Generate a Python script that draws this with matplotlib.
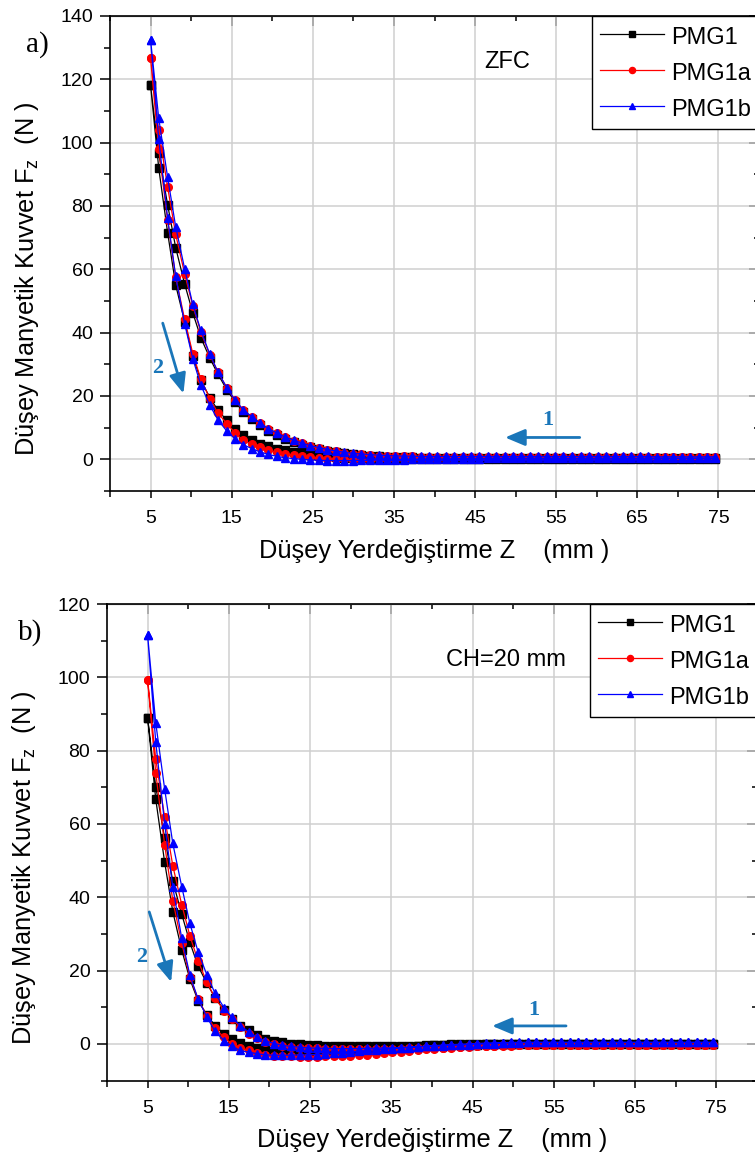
import numpy as np
import matplotlib.pyplot as plt

plt.rcParams['font.family'] = ['Liberation Sans', 'DejaVu Sans']
plt.rcParams['mathtext.fontset'] = 'custom'
plt.rcParams['mathtext.rm'] = 'Liberation Sans'
plt.rcParams['mathtext.it'] = 'Liberation Sans:italic'

# displacement grid (mm), shared by both branches
z = [5.0, 6.0, 7.1, 8.1, 9.2, 10.2, 11.2, 12.3, 13.3, 14.4,
     15.4, 16.4, 17.5, 18.5, 19.5, 20.6, 21.6, 22.7, 23.7, 24.7,
     25.8, 26.8, 27.9, 28.9, 29.9, 31.0, 32.0, 33.1, 34.1, 35.1,
     36.2, 37.2, 38.3, 39.3, 40.3, 41.4, 42.4, 43.5, 44.5, 45.5,
     46.6, 47.6, 48.7, 49.7, 50.7, 51.8, 52.8, 53.9, 54.9, 55.9,
     57.0, 58.0, 59.0, 60.1, 61.1, 62.2, 63.2, 64.2, 65.3, 66.3,
     67.4, 68.4, 69.4, 70.5, 71.5, 72.6, 73.6, 74.6]

names = ['PMG1', 'PMG1a', 'PMG1b']

# ---- a) ZFC : approach (1) and recede (2) ----
a_app_pmg1 = [118.1, 96.7, 80.4, 66.8, 55.4, 46.3, 38.4, 32.0, 26.9, 22.0,
              18.2, 15.1, 12.8, 10.9, 9.1, 7.7, 6.5, 5.5, 4.6, 3.9,
              3.3, 2.7, 2.3, 1.9, 1.6, 1.3, 1.1, 0.9, 0.8, 0.7,
              0.6, 0.6, 0.5, 0.5, 0.5, 0.5, 0.5, 0.5, 0.5, 0.5,
              0.5, 0.5, 0.5, 0.5, 0.5, 0.5, 0.5, 0.5, 0.5, 0.5,
              0.5, 0.5, 0.5, 0.5, 0.5, 0.5, 0.5, 0.5, 0.5, 0.5,
              0.5, 0.5, 0.5, 0.5, 0.5, 0.5, 0.5, 0.5]
a_app_pmg1a = [126.6, 103.9, 86.0, 71.0, 58.6, 48.5, 40.2, 33.0, 27.6, 22.6,
               18.7, 15.6, 13.3, 11.4, 9.6, 8.2, 6.9, 5.9, 5.0, 4.2,
               3.6, 3.0, 2.5, 2.1, 1.8, 1.6, 1.4, 1.2, 1.1, 1.0,
               0.9, 0.9, 0.8, 0.8, 0.8, 0.8, 0.8, 0.8, 0.8, 0.8,
               0.8, 0.8, 0.8, 0.8, 0.8, 0.8, 0.8, 0.8, 0.8, 0.8,
               0.8, 0.8, 0.8, 0.8, 0.8, 0.8, 0.8, 0.8, 0.8, 0.8,
               0.8, 0.8, 0.8, 0.8, 0.8, 0.8, 0.8, 0.8]
a_app_pmg1b = [132.5, 107.8, 89.1, 73.4, 60.2, 48.9, 40.7, 33.2, 27.6, 22.6,
               18.8, 15.7, 13.4, 11.5, 9.7, 8.3, 7.0, 6.0, 5.1, 4.3,
               3.7, 3.1, 2.6, 2.2, 1.9, 1.7, 1.5, 1.3, 1.2, 1.1,
               1.0, 1.0, 0.9, 0.9, 0.9, 0.9, 0.9, 0.9, 0.9, 0.9,
               0.9, 0.9, 0.9, 0.9, 0.9, 0.9, 0.9, 0.9, 0.9, 0.9,
               0.9, 0.9, 0.9, 0.9, 0.9, 0.9, 0.9, 0.9, 0.9, 0.9,
               0.8, 0.8, 0.8, 0.8, 0.8, 0.8, 0.8, 0.8]
a_rec_pmg1 = [118.1, 92.1, 71.6, 55.0, 43.5, 32.5, 25.0, 19.5, 15.5, 12.3,
              9.7, 7.6, 6.2, 4.9, 4.2, 3.4, 2.8, 2.3, 1.9, 1.5,
              1.2, 0.9, 0.7, 0.5, 0.4, 0.3, 0.2, 0.1, 0.1, 0.0,
              0.0, 0.0, 0.0, 0.1, 0.1, 0.1, 0.1, 0.1, 0.1, 0.1,
              0.1, 0.1, 0.1, 0.1, 0.1, 0.1, 0.1, 0.1, 0.1, 0.1,
              0.1, 0.1, 0.1, 0.1, 0.1, 0.1, 0.1, 0.1, 0.1, 0.1,
              0.1, 0.1, 0.1, 0.1, 0.1, 0.1, 0.1, 0.1]
a_rec_pmg1a = [126.6, 98.1, 75.5, 57.5, 44.2, 33.4, 25.3, 19.2, 14.6, 11.3,
               8.4, 6.0, 4.8, 3.8, 2.8, 2.2, 1.7, 1.3, 0.9, 0.6,
               0.4, 0.2, 0.1, 0.0, -0.1, -0.1, -0.1, 0.0, 0.0, 0.1,
               0.1, 0.1, 0.2, 0.2, 0.2, 0.2, 0.3, 0.3, 0.3, 0.3,
               0.3, 0.3, 0.3, 0.3, 0.3, 0.3, 0.3, 0.3, 0.3, 0.3,
               0.3, 0.3, 0.3, 0.3, 0.3, 0.3, 0.3, 0.3, 0.3, 0.3,
               0.3, 0.3, 0.3, 0.3, 0.3, 0.3, 0.3, 0.3]
a_rec_pmg1b = [132.5, 101.3, 76.2, 57.8, 42.8, 31.8, 23.4, 17.1, 12.5, 8.9,
               6.5, 4.6, 3.4, 2.3, 1.6, 0.9, 0.5, 0.2, 0.0, -0.2,
               -0.3, -0.4, -0.4, -0.4, -0.4, -0.3, -0.3, -0.2, -0.2, -0.1,
               -0.1, 0.0, 0.0, 0.1, 0.1, 0.1, 0.2, 0.2, 0.2, 0.2,
               0.3, 0.3, 0.3, 0.3, 0.3, 0.3, 0.3, 0.3, 0.3, 0.3,
               0.3, 0.3, 0.3, 0.3, 0.3, 0.3, 0.3, 0.3, 0.3, 0.3,
               0.3, 0.3, 0.3, 0.3, 0.3, 0.3, 0.3, 0.3]

# ---- b) CH=20 mm ----
b_app_pmg1 = [89.0, 70.2, 56.1, 44.4, 35.4, 27.7, 21.3, 16.5, 12.6, 9.3,
              6.8, 5.0, 3.8, 2.5, 1.3, 0.9, 0.4, 0.1, -0.1, -0.3,
              -0.4, -0.5, -0.5, -0.6, -0.6, -0.6, -0.6, -0.6, -0.6, -0.6,
              -0.6, -0.5, -0.5, -0.5, -0.4, -0.4, -0.3, -0.3, -0.2, -0.2,
              -0.1, -0.1, 0.0, 0.0, 0.0, 0.0, 0.0, 0.0, 0.0, 0.0,
              0.0, 0.0, 0.0, 0.0, 0.0, 0.0, 0.0, 0.0, 0.0, 0.0,
              0.0, 0.0, 0.0, 0.0, 0.0, 0.0, 0.0, 0.0]
b_app_pmg1a = [99.3, 77.7, 61.8, 48.6, 38.0, 29.5, 22.7, 16.8, 12.5, 9.1,
               6.8, 4.6, 2.8, 1.5, 0.6, 0.0, -0.5, -0.8, -1.0, -1.1,
               -1.2, -1.3, -1.3, -1.3, -1.4, -1.4, -1.4, -1.4, -1.3, -1.3,
               -1.3, -1.2, -1.2, -1.1, -1.1, -1.0, -0.9, -0.9, -0.8, -0.7,
               -0.6, -0.6, -0.5, -0.5, -0.4, -0.4, -0.4, -0.4, -0.4, -0.4,
               -0.4, -0.4, -0.4, -0.4, -0.4, -0.4, -0.4, -0.4, -0.4, -0.4,
               -0.4, -0.4, -0.4, -0.4, -0.4, -0.4, -0.4, -0.4]
b_app_pmg1b = [111.5, 87.6, 69.5, 54.7, 42.9, 32.9, 25.2, 18.8, 13.8, 9.9,
               7.2, 5.0, 3.2, 1.8, 0.8, 0.1, -0.4, -0.7, -0.9, -1.1,
               -1.2, -1.2, -1.3, -1.3, -1.3, -1.3, -1.2, -1.2, -1.1, -1.1,
               -1.0, -0.9, -0.8, -0.7, -0.6, -0.5, -0.4, -0.3, -0.2, -0.1,
               0.0, 0.1, 0.2, 0.3, 0.3, 0.4, 0.4, 0.4, 0.4, 0.4,
               0.4, 0.4, 0.4, 0.4, 0.4, 0.4, 0.4, 0.4, 0.4, 0.4,
               0.4, 0.4, 0.4, 0.4, 0.4, 0.4, 0.4, 0.4]
b_rec_pmg1 = [89.0, 66.8, 49.5, 36.1, 25.6, 17.7, 11.8, 7.9, 5.0, 2.7,
              1.3, 0.2, -0.5, -1.1, -1.6, -1.9, -2.1, -2.2, -2.3, -2.4,
              -2.4, -2.3, -2.2, -2.1, -2.0, -1.8, -1.6, -1.5, -1.3, -1.1,
              -0.9, -0.8, -0.6, -0.4, -0.3, -0.2, -0.1, 0.0, 0.0, 0.0,
              0.0, 0.0, 0.0, 0.0, 0.0, 0.0, 0.0, 0.0, 0.0, 0.0,
              0.0, 0.0, 0.0, 0.0, 0.0, 0.0, 0.0, 0.0, 0.0, 0.0,
              0.0, 0.0, 0.0, 0.0, 0.0, 0.0, 0.0, 0.0]
b_rec_pmg1a = [99.3, 74.0, 54.3, 39.1, 27.5, 18.3, 12.3, 7.6, 4.2, 1.8,
               -0.1, -1.2, -1.8, -2.4, -2.9, -3.2, -3.3, -3.4, -3.5, -3.5,
               -3.5, -3.4, -3.4, -3.3, -3.2, -3.0, -2.9, -2.7, -2.5, -2.3,
               -2.1, -1.9, -1.7, -1.5, -1.3, -1.1, -1.0, -0.8, -0.7, -0.6,
               -0.5, -0.5, -0.4, -0.4, -0.4, -0.4, -0.4, -0.4, -0.4, -0.4,
               -0.4, -0.4, -0.4, -0.4, -0.4, -0.4, -0.4, -0.4, -0.4, -0.4,
               -0.4, -0.4, -0.4, -0.4, -0.4, -0.4, -0.4, -0.4]
b_rec_pmg1b = [111.5, 82.4, 60.0, 42.7, 28.8, 18.8, 12.3, 7.3, 3.4, 0.9,
               -0.7, -1.8, -2.3, -2.7, -3.0, -3.1, -3.1, -3.1, -3.0, -3.0,
               -2.9, -2.8, -2.6, -2.4, -2.2, -2.0, -1.8, -1.6, -1.5, -1.3,
               -1.1, -1.0, -0.8, -0.6, -0.5, -0.3, -0.2, -0.1, 0.0, 0.1,
               0.2, 0.3, 0.3, 0.4, 0.4, 0.4, 0.4, 0.4, 0.4, 0.4,
               0.4, 0.4, 0.4, 0.4, 0.4, 0.4, 0.4, 0.4, 0.4, 0.4,
               0.4, 0.4, 0.4, 0.4, 0.4, 0.4, 0.4, 0.4]

colors = ['black', '#ff0000', '#0000ff']
markers = ['s', 'o', '^']
arrow_col = '#1a76b9'
ylab = 'Düşey Manyetik Kuvvet F$_{\\rm z}$  (N )'
xlab = 'Düşey Yerdeğiştirme Z    (mm )'

fig = plt.figure(figsize=(7.55, 11.58), dpi=100)
ax_a = fig.add_axes([0.1457, 0.576, 0.8596, 0.4102])
ax_b = fig.add_axes([0.1417, 0.0669, 0.8609, 0.4115])


def draw(ax, apps, recs, ymax, note, note_xy, arr2, arr1):
    for name, c, m, ap, rc in zip(names, colors, markers, apps, recs):
        ax.plot(z[::-1] + z, ap[::-1] + rc, color=c, marker=m, ms=5.5,
                lw=0.9, label=name, zorder=3)
    ax.set_xlim(0, 80)
    ax.set_ylim(-10, ymax)
    ax.set_xticks([5, 15, 25, 35, 45, 55, 65, 75])
    ax.set_xticks([0, 10, 20, 30, 40, 50, 60, 70, 80], minor=True)
    ax.set_yticks(np.arange(0, ymax + 1, 20))
    ax.set_yticks(np.arange(-10, ymax, 20), minor=True)
    ax.grid(which='major', color='#cfcfcf', lw=1.1)
    ax.set_axisbelow(True)
    ax.tick_params(which='both', direction='out', labelsize=14, width=1.1)
    ax.tick_params(axis='x', which='major', length=5, pad=9)
    ax.tick_params(axis='x', which='minor', length=4)
    ax.tick_params(axis='y', which='major', length=7, pad=5)
    ax.tick_params(axis='y', which='minor', length=4.5)
    for s in ax.spines.values():
        s.set_linewidth(1.2)

    top = ax.secondary_xaxis('top')
    top.set_xticks([5, 15, 25, 35, 45, 55, 65, 75])
    top.set_xticks([0, 10, 20, 30, 40, 50, 60, 70, 80], minor=True)
    top.tick_params(which='both', direction='in', labeltop=False, width=1.1)
    top.tick_params(which='major', length=7)
    top.tick_params(which='minor', length=3.6)
    right = ax.secondary_yaxis('right')
    right.set_yticks(np.arange(0, ymax + 1, 20))
    right.set_yticks(np.arange(-10, ymax, 20), minor=True)
    right.tick_params(which='both', direction='in', labelright=False, width=1.1)
    right.tick_params(which='major', length=7)
    right.tick_params(which='minor', length=3.6)

    ax.set_xlabel(xlab, fontsize=18.3, labelpad=8)
    ax.set_ylabel(ylab, fontsize=18.3)
    ax.yaxis.set_label_coords(-0.106, 0.446)

    ax.text(note_xy[0], note_xy[1], note, fontsize=17, ha='center', va='center')

    leg = ax.legend(loc='upper right', bbox_to_anchor=(1, 1), borderaxespad=0,
                    fancybox=False, edgecolor='black', framealpha=1, fontsize=17,
                    handlelength=2.7, handleheight=1.2, handletextpad=0.3,
                    labelspacing=0.45, borderpad=0.35, markerscale=0.8)
    leg.get_frame().set_linewidth(1.0)

    (s2, e2, t2), (s1, e1, t1) = arr2, arr1
    for s, e, t, lab in [(s2, e2, t2, '2'), (s1, e1, t1, '1')]:
        ax.annotate('', xy=e, xytext=s,
                    arrowprops=dict(arrowstyle='-|>,head_length=1.0,head_width=0.42',
                                    color=arrow_col, lw=2, mutation_scale=12,
                                    shrinkA=0, shrinkB=0))
        ax.text(t[0], t[1], lab, fontsize=16, fontweight='bold',
                family='Liberation Serif', color=arrow_col, ha='center', va='center')


draw(ax_a, [a_app_pmg1, a_app_pmg1a, a_app_pmg1b],
     [a_rec_pmg1, a_rec_pmg1a, a_rec_pmg1b], 140, 'ZFC', (48.9, 125.4),
     ((6.5, 43), (9.05, 20.8), (5.9, 28.7)),
     ((57.9, 6.9), (48.7, 6.9), (54.0, 12.3)))
draw(ax_b, [b_app_pmg1, b_app_pmg1a, b_app_pmg1b],
     [b_rec_pmg1, b_rec_pmg1a, b_rec_pmg1b], 120, 'CH=20 mm', (49.1, 104.7),
     ((5.2, 36), (7.9, 16.9), (4.3, 23.7)),
     ((56.5, 4.9), (47.4, 4.9), (52.5, 9.3)))

fig.text(37 / 755, 1 - 45 / 1158, 'a)', fontsize=21, family='Liberation Serif',
         ha='center', va='center')
fig.text(30 / 755, 1 - 633 / 1158, 'b)', fontsize=21, family='Liberation Serif',
         ha='center', va='center')

plt.savefig('out.png', dpi=100)
